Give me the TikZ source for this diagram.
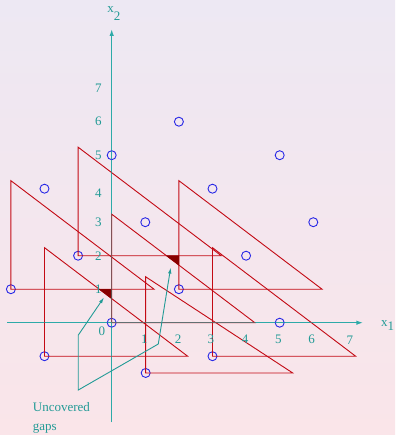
\documentclass[tikz,border=0pt]{standalone}
\usepackage{fontspec}
\setmainfont{Liberation Serif}
\usetikzlibrary{arrows.meta}
\definecolor{bgtop}{RGB}{237,232,243}
\definecolor{bgbot}{RGB}{250,229,233}
\definecolor{axisteal}{RGB}{45,170,168}
\definecolor{labteal}{RGB}{35,155,150}
\definecolor{trired}{RGB}{195,10,20}
\definecolor{gapfill}{RGB}{135,0,0}
\definecolor{ptblue}{RGB}{40,40,230}
\begin{document}
\begin{tikzpicture}[x=33.6pt,y=33.5pt,
  lab/.style={text=labteal,inner sep=0pt,font=\fontsize{13}{15}\selectfont},
  lattice/.style={circle,draw=ptblue,line width=0.9pt,minimum size=9pt,inner sep=0pt},
  axisline/.style={draw=axisteal,line width=1.4pt},
  triline/.style={draw=trired,line width=0.9pt,line join=miter},
  gapshape/.style={fill=gapfill,draw=gapfill,line width=0.4pt},
  gaparrow/.style={draw=labteal,line width=0.9pt}
]
\shade[top color=bgtop,bottom color=bgbot] (-3.324,-3.352) rectangle (8.432,9.633);
\useasboundingbox (-3.324,-3.352) rectangle (8.432,9.633);

% axes
\coordinate (xs) at (-3.107,0);
\coordinate (xe) at (7.49,0);
\coordinate (ys) at (0,-2.97);
\coordinate (ye) at (0,8.77);
\draw[axisline,-{Latex[length=7pt,width=4.5pt]}] (xs) -- (xe);
\draw[axisline,-{Latex[length=7pt,width=4.5pt]}] (ys) -- (ye);

% lattice points
\node[lattice] (n00)   at (0,0) {};
\node[lattice] (n50)   at (5,0) {};
\node[lattice] (n05)   at (0,5) {};
\node[lattice] (n26)   at (2,6) {};
\node[lattice] (n55)   at (5,5) {};
\node[lattice] (nm24)  at (-2,4) {};
\node[lattice] (n13)   at (1,3) {};
\node[lattice] (n34)   at (3,4) {};
\node[lattice] (n42)   at (4,2) {};
\node[lattice] (n63)   at (6,3) {};
\node[lattice] (nm12)  at (-1,2) {};
\node[lattice] (nm31)  at (-3,1) {};
\node[lattice] (n21)   at (2,1) {};
\node[lattice] (nm2m1) at (-2,-1) {};
\node[lattice] (n3m1)  at (3,-1) {};
\node[lattice] (n1m15) at (1.012,-1.5) {};

% triangles
\foreach \c in {nm31,nm12,n21,n00,nm2m1,n3m1}
  \draw[triline] (\c.center) -- ++(0,3.24) -- ++(4.26,-3.24) -- cycle;
\draw[triline] (n1m15.center) -- ++(0,2.87) -- ++(4.375,-2.87) -- cycle;

% uncovered gaps
\fill[gapshape] (-0.370,1) -- (0,1) -- (0,0.719) -- cycle;
\fill[gapshape] (1.630,2) -- (2,2) -- (2,1.719) -- cycle;

% axes overlay where red lines lie on them
\draw[axisline,draw opacity=0.45] (xs) -- (7.3,0);
\draw[axisline,draw opacity=0.45] (ys) -- (0,8.6);

% arrows to the gaps
\coordinate (a1) at (-0.994,-0.370);
\coordinate (a2) at (-0.994,-2.009);
\coordinate (a3) at (1.387,-0.636);
\coordinate (g1tip) at (-0.229,0.755);
\coordinate (g2tip) at (1.756,1.646);
\draw[gaparrow,{Latex[length=6pt,width=3.5pt]}-{Latex[length=6pt,width=3.5pt]}]
  (g1tip) -- (a1) -- (a2) -- (a3) -- (g2tip);

% tick labels
\node[lab] (ty1) at (-0.399,0.991) {1};
\node[lab] (ty2) at (-0.399,2.0) {2};
\node[lab] (ty3) at (-0.399,2.99) {3};
\node[lab] (ty4) at (-0.399,3.88) {4};
\node[lab] (ty5) at (-0.399,4.99) {5};
\node[lab] (ty6) at (-0.399,6.0) {6};
\node[lab] (ty7) at (-0.399,6.99) {7};
\node[lab] (t0) at (-0.289,-0.269) {0};
\node[lab] (tx1) at (0.97,-0.496) {1};
\node[lab] (tx2) at (1.98,-0.496) {2};
\node[lab] (tx3) at (2.955,-0.496) {3};
\node[lab] (tx4) at (3.97,-0.496) {4};
\node[lab] (tx5) at (4.96,-0.496) {5};
\node[lab] (tx6) at (5.95,-0.496) {6};
\node[lab] (tx7) at (7.09,-0.51) {7};

% axis names
\node[lab,anchor=base west] (x2lab) at (-0.131,9.254) {x\raisebox{-8.3pt}{2}};
\node[lab,anchor=base west] (x1lab) at (8.015,-0.099) {x\raisebox{-4pt}{1}};

% caption
\node[lab,anchor=north west,align=left,font=\fontsize{13}{19}\selectfont] (gaplab)
  at (-2.351,-2.361) {Uncovered\\gaps};
\end{tikzpicture}
\end{document}
